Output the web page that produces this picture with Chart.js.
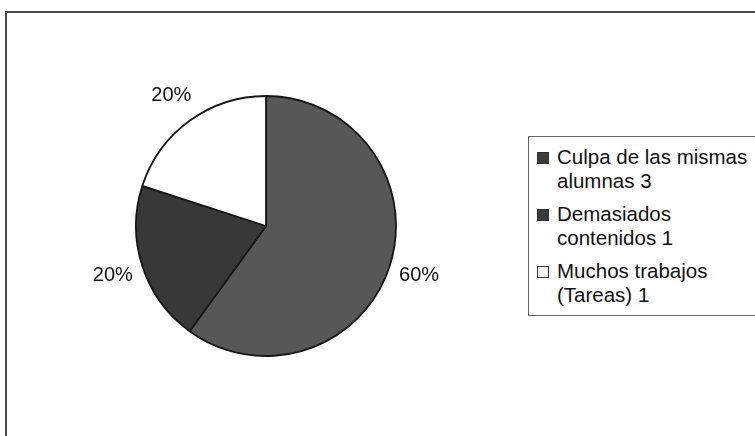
<!DOCTYPE html>
<html>
<head>
<meta charset="utf-8">
<script src="https://cdn.jsdelivr.net/npm/chart.js@4.4.0/dist/chart.umd.min.js"></script>
<style>
  html, body { margin: 0; padding: 0; background: #fff; overflow: hidden; }
  #wrap { position: relative; width: 755px; height: 436px; }
  #frame {
    position: absolute; left: 5px; top: 11px; width: 800px; height: 500px;
    border: 2px solid #4a4a4a; box-sizing: border-box;
  }
  #pie { position: absolute; left: 0; top: 0; }
  #legend {
    position: absolute; left: 528px; top: 136px; width: 260px; height: 180px;
    border: 1px solid #666; box-sizing: border-box; background: #fff;
    font-family: "Liberation Sans", Arial, sans-serif; font-size: 20.5px; color: #111;
  }
  .donutLegend { list-style: none; margin: 0; padding: 8px 0 0 8px; }
  .donutLegend li { position: relative; padding-left: 20px; line-height: 24px; margin-bottom: 9px; }
  .legendLabelBox {
    position: absolute; left: 0; top: 7px; width: 10px; height: 10px;
    border: 1px solid #333;
  }
</style>
</head>
<body>
<div id="wrap">
  <div id="frame"></div>
  <canvas id="pie" width="755" height="436"></canvas>
  <div id="legend"></div>
</div>
<script>
// categories (legend lines) and counts
const causeLabels = [
  ["Culpa de las mismas", "alumnas 3"],
  ["Demasiados", "contenidos 1"],
  ["Muchos trabajos", "(Tareas) 1"]
];
const causeCounts = [3, 1, 1];

// slice fills, dark grays like the scanned original
const sliceColors = ['#575757', '#383838', '#ffffff'];
const legendColors = ['#3c3c3c', '#3a3a3a', '#ffffff'];

// percentage labels just outside each slice
const percentLabels = {
  id: 'percentLabels',
  afterDatasetsDraw(chart) {
    const ctx = chart.ctx;
    const data = chart.data.datasets[0].data;
    const total = data.reduce((a, b) => a + b, 0);
    ctx.save();
    ctx.font = '20px "Liberation Sans", Arial, sans-serif';
    ctx.fillStyle = '#111';
    ctx.textAlign = 'center';
    ctx.textBaseline = 'middle';
    chart.getDatasetMeta(0).data.forEach((arc, i) => {
      const p = arc.getProps(['x', 'y', 'startAngle', 'endAngle', 'outerRadius'], true);
      const mid = (p.startAngle + p.endAngle) / 2;
      const d = p.outerRadius + 31;
      const txt = Math.round(data[i] / total * 100) + '%';
      ctx.fillText(txt, p.x + Math.cos(mid) * d, p.y + Math.sin(mid) * d);
    });
    ctx.restore();
  }
};

const ctxPie = document.getElementById('pie').getContext('2d');
const pieChart = new Chart(ctxPie, {
  type: 'pie',
  data: {
    labels: causeLabels,
    datasets: [{
      data: causeCounts,
      backgroundColor: sliceColors,
      borderColor: '#161616',
      borderWidth: 1.8,
      hoverOffset: 0
    }]
  },
  options: {
    responsive: false,
    animation: false,
    radius: 130,
    layout: { padding: { left: 136, right: 359, top: 96, bottom: 80 } },
    plugins: {
      legend: { display: false },
      tooltip: { enabled: false }
    }
  },
  plugins: [percentLabels]
});

// html legend, like the old legendCallback
const text = [];
text.push('<ul class="donutLegend">');
for (let i = 0; i < causeCounts.length; i++) {
  text.push('<li>');
  text.push('<span style="background-color:' + legendColors[i] + ';" class="legendLabelBox"></span>' +
    pieChart.data.labels[i].join('<br>'));
  text.push('</li>');
}
text.push('</ul>');
document.getElementById('legend').innerHTML = text.join('');
</script>
</body>
</html>
